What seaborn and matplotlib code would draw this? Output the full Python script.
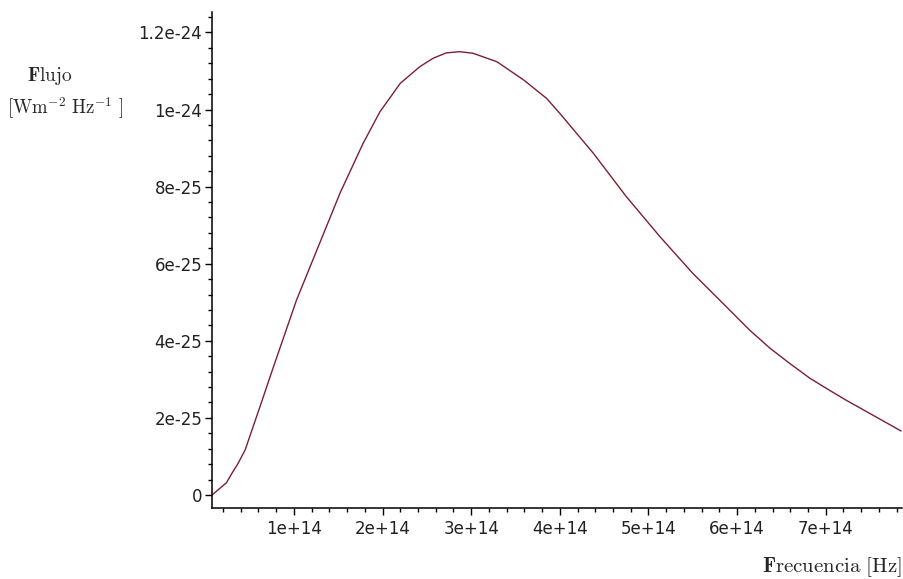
import matplotlib
matplotlib.use("Agg")
import matplotlib.pyplot as plt
import seaborn as sns
from matplotlib.ticker import FixedLocator, FixedFormatter, MultipleLocator

# values
freq_e14 = [0.076, 0.24, 0.30, 0.37, 0.45, 0.617, 0.77, 1.03, 1.26, 1.52, 1.78,
            1.97, 2.20, 2.42, 2.57, 2.72, 2.87, 3.02, 3.29, 3.59, 3.85, 4.00, 4.38,
            4.75, 5.13, 5.50, 5.88, 6.14, 6.37, 6.59, 6.82, 7.04, 7.23, 7.85]
flux_e25 = [0.0, 0.32, 0.56, 0.82, 1.17, 2.29, 3.33, 5.06, 6.36, 7.83, 9.12,
            9.94, 10.68, 11.11, 11.33, 11.47, 11.50, 11.46, 11.24, 10.77, 10.29, 9.90, 8.86,
            7.74, 6.70, 5.75, 4.88, 4.28, 3.81, 3.42, 3.03, 2.72, 2.46, 1.66]

freq = [f * 1e14 for f in freq_e14]
flux = [v * 1e-25 for v in flux_e25]

xticks = [1e14, 2e14, 3e14, 4e14, 5e14, 6e14, 7e14]
xtick_labels = ["1e+14", "2e+14", "3e+14", "4e+14", "5e+14", "6e+14", "7e+14"]
yticks = [0, 2e-25, 4e-25, 6e-25, 8e-25, 1e-24, 1.2e-24]
ytick_labels = ["0", "2e-25", "4e-25", "6e-25", "8e-25", "1e-24", "1.2e-24"]

sns.set_style("white")
plt.rcParams["mathtext.fontset"] = "cm"

fig = plt.figure(figsize=(9.04, 5.79), dpi=100)
ax = fig.add_axes([212 / 904, 1 - 508 / 579, 690 / 904, 496 / 579])

sns.lineplot(x=freq, y=flux, sort=False, ax=ax, color="#7a1f35", linewidth=1.0)

ax.set_xlim(0.076e14, 7.86e14)
ax.set_ylim(-3.37e-26, 1.253e-24)

ax.xaxis.set_major_locator(FixedLocator(xticks))
ax.xaxis.set_major_formatter(FixedFormatter(xtick_labels))
ax.yaxis.set_major_locator(FixedLocator(yticks))
ax.yaxis.set_major_formatter(FixedFormatter(ytick_labels))
ax.xaxis.set_minor_locator(MultipleLocator(2e13))
ax.yaxis.set_minor_locator(MultipleLocator(4e-26))

for side in ["top", "right"]:
    ax.spines[side].set_visible(False)
for side in ["left", "bottom"]:
    ax.spines[side].set_color("black")
    ax.spines[side].set_linewidth(1.1)

ax.tick_params(which="major", direction="out", length=5, width=1.0, color="black",
               labelsize=12, labelcolor="#222222", left=True, bottom=True)
ax.tick_params(which="minor", direction="out", length=3, width=1.0, color="black",
               left=True, bottom=True)
ax.tick_params(axis="y", which="major", pad=2)
ax.tick_params(axis="x", which="major", pad=4)

fig.text(50 / 904, 1 - 76 / 579, r"$\mathbf{F}\mathrm{lujo}$", ha="center", va="center",
         fontsize=14)
fig.text(65 / 904, 1 - 108 / 579, r"$[\mathrm{Wm}^{-2}\ \mathrm{Hz}^{-1}\ ]$",
         ha="center", va="center", fontsize=13.5)
fig.text(902 / 904, 1 - 567 / 579, r"$\mathbf{F}\mathrm{recuencia\ [Hz]}$",
         ha="right", va="center", fontsize=15)

fig.savefig("out.png", dpi=100)
